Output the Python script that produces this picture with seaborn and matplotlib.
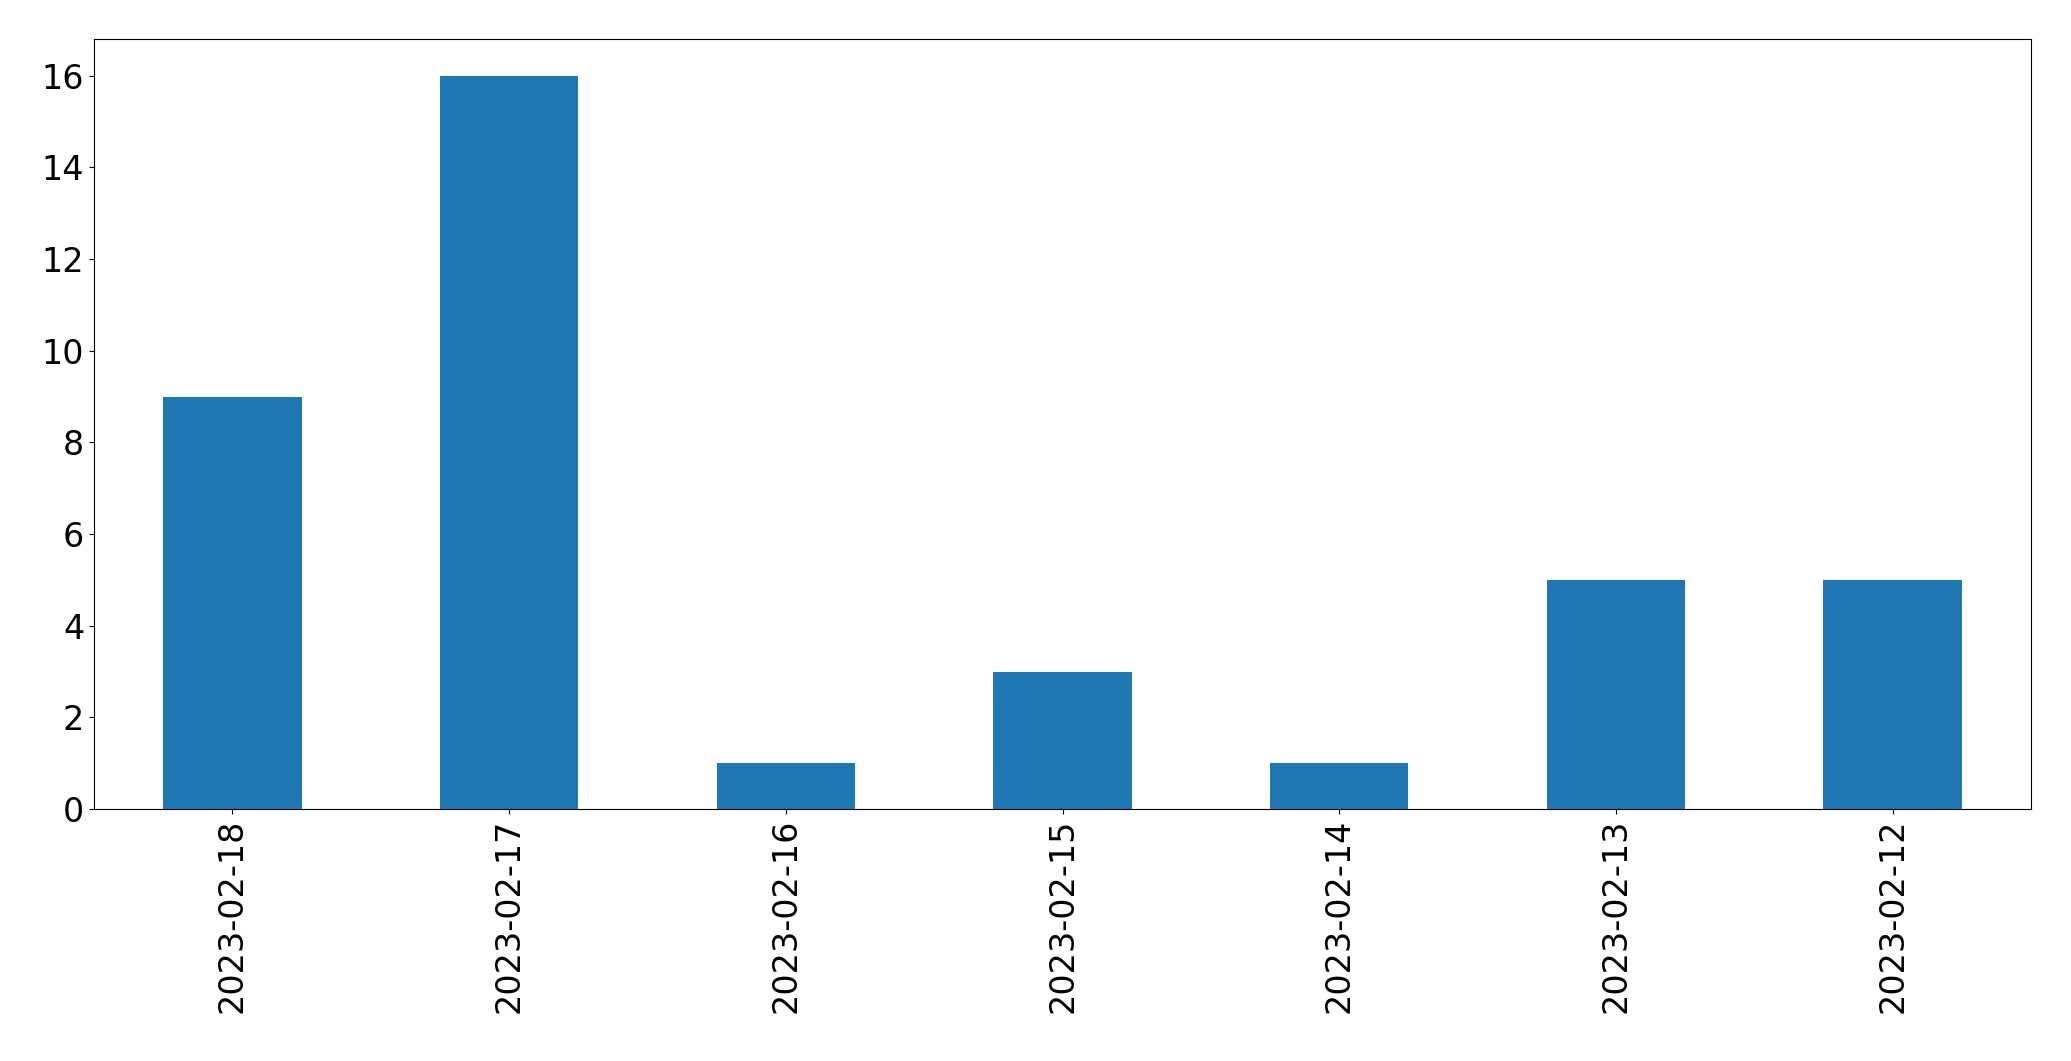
import matplotlib
matplotlib.use('Agg')
import matplotlib.pyplot as plt
import seaborn as sb
import pandas as pd

# Данные
dates = ['2023-02-18', '2023-02-17', '2023-02-16', '2023-02-15',
         '2023-02-14', '2023-02-13', '2023-02-12']
counts = [9, 16, 1, 3, 1, 5, 5]

data = pd.DataFrame({'date': dates, 'count': counts})

fig, ax = plt.subplots(figsize=(20.71, 10.61), dpi=100)
sb.barplot(data=data, x='date', y='count', color='#1f77b4', saturation=1,
           width=0.5, ax=ax)

ax.set_xlabel('')
ax.set_ylabel('')
ax.set_xlim(-0.5, len(dates) - 0.5)
ax.set_ylim(0, 16.8)
plt.xticks(rotation=90, fontsize=24)
plt.yticks(fontsize=24)
plt.subplots_adjust(left=0.0454, right=0.9807, top=0.9632, bottom=0.2375)
plt.savefig('out.png', dpi=100)
